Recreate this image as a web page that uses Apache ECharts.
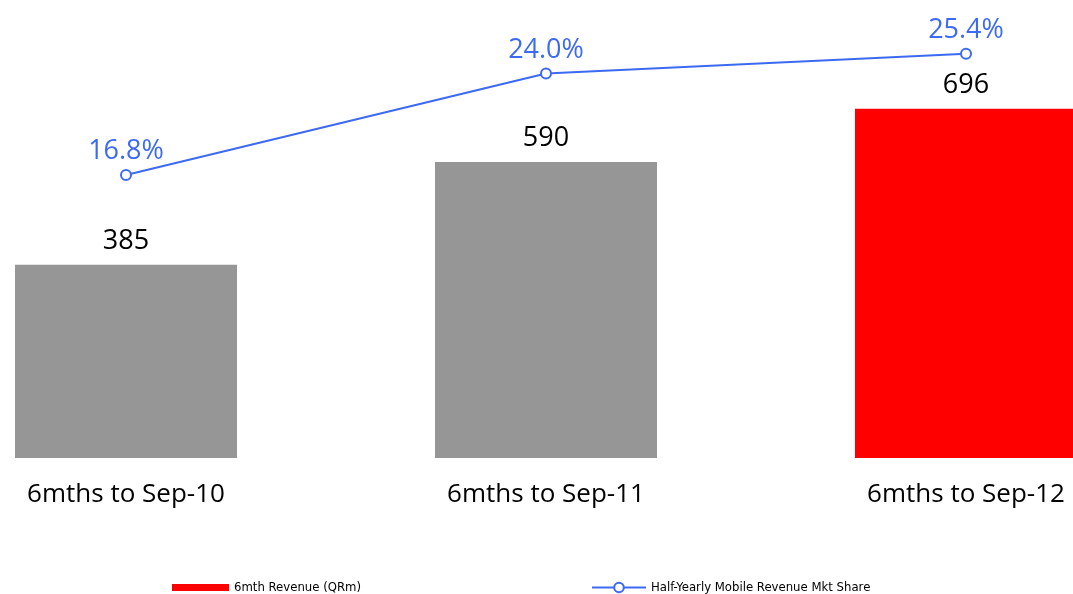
<!DOCTYPE html>
<html>
<head>
<meta charset="utf-8">
<script src="https://cdn.jsdelivr.net/npm/echarts@6/dist/echarts.min.js"></script>
<style>
  html, body { margin: 0; padding: 0; background: #ffffff; }
  #chart { width: 1073px; height: 594px; }
</style>
</head>
<body>
<div id="chart"></div>
<script>
// Half-year periods and their figures
const categories = ['6mths to Sep-10', '6mths to Sep-11', '6mths to Sep-12'];
const revenue = [385, 590, 696];          // 6mth Revenue (QRm)
const marketShare = [16.8, 24.0, 25.4];   // Half-Yearly Mobile Revenue Mkt Share (%)
const barColors = ['#969696', '#969696', '#ff0000'];

const seriesNames = ['6mth Revenue (QRm)', 'Half-Yearly Mobile Revenue Mkt Share'];
const blue = '#3d6af2';
const font = '"Open Sans", "Noto Sans", sans-serif';
const legendFont = '"Liberation Sans Narrow", "DejaVu Sans Condensed", sans-serif';

const chart = echarts.init(document.getElementById('chart'), null, { renderer: 'canvas' });

chart.setOption({
  animation: false,
  backgroundColor: '#ffffff',
  grid: { left: -84, right: -103, top: 0, height: 458, outerBoundsMode: 'none' },
  legend: [
    {
      data: [{ name: seriesNames[0], icon: 'rect', itemStyle: { color: '#ff0000' } }],
      left: 167, top: 576,
      itemWidth: 57, itemHeight: 7, itemGap: 4,
      textStyle: { fontFamily: legendFont, fontSize: 13, color: '#000' },
      selectedMode: false
    },
    {
      data: [seriesNames[1]],
      left: 586, top: 576,
      itemWidth: 54, itemHeight: 12, itemGap: 4,
      textStyle: { fontFamily: legendFont, fontSize: 13, color: '#000' },
      selectedMode: false
    }
  ],
  xAxis: {
    type: 'category',
    data: categories,
    axisLine: { show: false },
    axisTick: { show: false },
    axisLabel: { fontFamily: font, fontSize: 26, color: '#000', margin: 24 }
  },
  yAxis: [
    { type: 'value', min: 0, max: 913, show: false },
    { type: 'value', min: -3.26, max: 29.21, show: false }
  ],
  series: [
    {
      name: seriesNames[0],
      type: 'bar',
      yAxisIndex: 0,
      barWidth: 222,
      data: revenue.map((v, i) => ({ value: v, itemStyle: { color: barColors[i] } })),
      itemStyle: { color: '#ff0000' },
      label: {
        show: true, position: 'top', distance: 10,
        fontFamily: font, fontSize: 27, color: '#000'
      }
    },
    {
      name: seriesNames[1],
      type: 'line',
      yAxisIndex: 1,
      data: marketShare,
      symbol: 'circle',
      symbolSize: 10,
      showAllSymbol: true,
      lineStyle: { color: blue, width: 2 },
      itemStyle: { color: '#ffffff', borderColor: blue, borderWidth: 2 },
      label: {
        show: true, position: 'top', distance: 4,
        fontFamily: font, fontSize: 27, color: blue,
        formatter: p => p.value.toFixed(1) + '%'
      }
    }
  ]
});
</script>
</body>
</html>
